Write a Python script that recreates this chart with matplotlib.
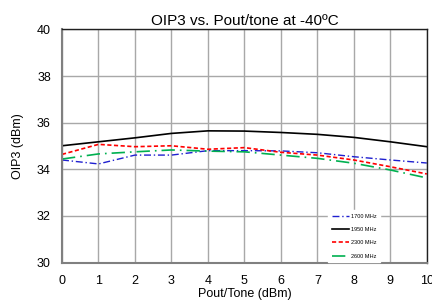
import matplotlib
matplotlib.use("Agg")
import matplotlib.pyplot as plt

plt.rcParams['font.family'] = ['Liberation Sans', 'DejaVu Sans']

pout = [0, 1, 2, 3, 4, 5, 6, 7, 8, 9, 10]
oip3_1700 = [34.40, 34.23, 34.61, 34.61, 34.80, 34.80, 34.79, 34.71, 34.54, 34.40, 34.27]
oip3_1950 = [35.01, 35.18, 35.35, 35.54, 35.65, 35.64, 35.58, 35.50, 35.37, 35.18, 34.97]
oip3_2300 = [34.64, 35.07, 34.97, 35.01, 34.86, 34.93, 34.73, 34.61, 34.40, 34.11, 33.80]
oip3_2600 = [34.44, 34.66, 34.75, 34.83, 34.78, 34.75, 34.61, 34.47, 34.26, 33.97, 33.63]
labels = ['1700 MHz', '1950 MHz', '2300 MHz', '2600 MHz']
xticks = [0, 1, 2, 3, 4, 5, 6, 7, 8, 9, 10]
yticks = [30, 32, 34, 36, 38, 40]

fig = plt.figure(figsize=(4.32, 3.04), dpi=100)
ax = fig.add_axes([0.1435, 0.1365, 0.8445, 0.7665])

ax.plot(pout, oip3_1700, color='#1f1fcf', lw=1.0, linestyle=(0, (5, 2, 1, 2)), label=labels[0])
ax.plot(pout, oip3_1950, color='black', lw=1.2, linestyle='-', label=labels[1])
ax.plot(pout, oip3_2300, color='#ff0000', lw=1.2, linestyle=(0, (2.5, 1.5)), label=labels[2])
ax.plot(pout, oip3_2600, color='#00b050', lw=1.2, linestyle=(0, (8, 3, 1, 3)), label=labels[3])

ax.set_xlim(0, 10)
ax.set_ylim(30, 40)
ax.set_xticks(xticks)
ax.set_yticks(yticks)
ax.tick_params(axis='y', length=0, labelsize=9, pad=8)
ax.tick_params(axis='x', length=0, labelsize=9, pad=9)
ax.grid(True, color='#a8a8a8', lw=1.0)
ax.set_axisbelow(True)
for s in ['top', 'right']:
    ax.spines[s].set_color('#202020')
    ax.spines[s].set_linewidth(1.0)
for s in ['left', 'bottom']:
    ax.spines[s].set_color('#808080')
    ax.spines[s].set_linewidth(1.5)

ax.set_title('OIP3 vs. Pout/tone at -40ºC', fontsize=11, pad=3)
ax.set_xlabel('Pout/Tone (dBm)', fontsize=9, labelpad=1)
ax.set_ylabel('OIP3 (dBm)', fontsize=9, labelpad=9)

leg = ax.legend(loc='lower right', bbox_to_anchor=(0.872, 0.0), fontsize=4,
                frameon=True, fancybox=False, handlelength=3.2, labelspacing=1.5,
                borderpad=0.6, handletextpad=0.2, borderaxespad=0.1)
leg.get_frame().set_edgecolor('white')
leg.get_frame().set_facecolor('white')
leg.get_frame().set_alpha(1.0)

fig.savefig('out.png', dpi=100)
